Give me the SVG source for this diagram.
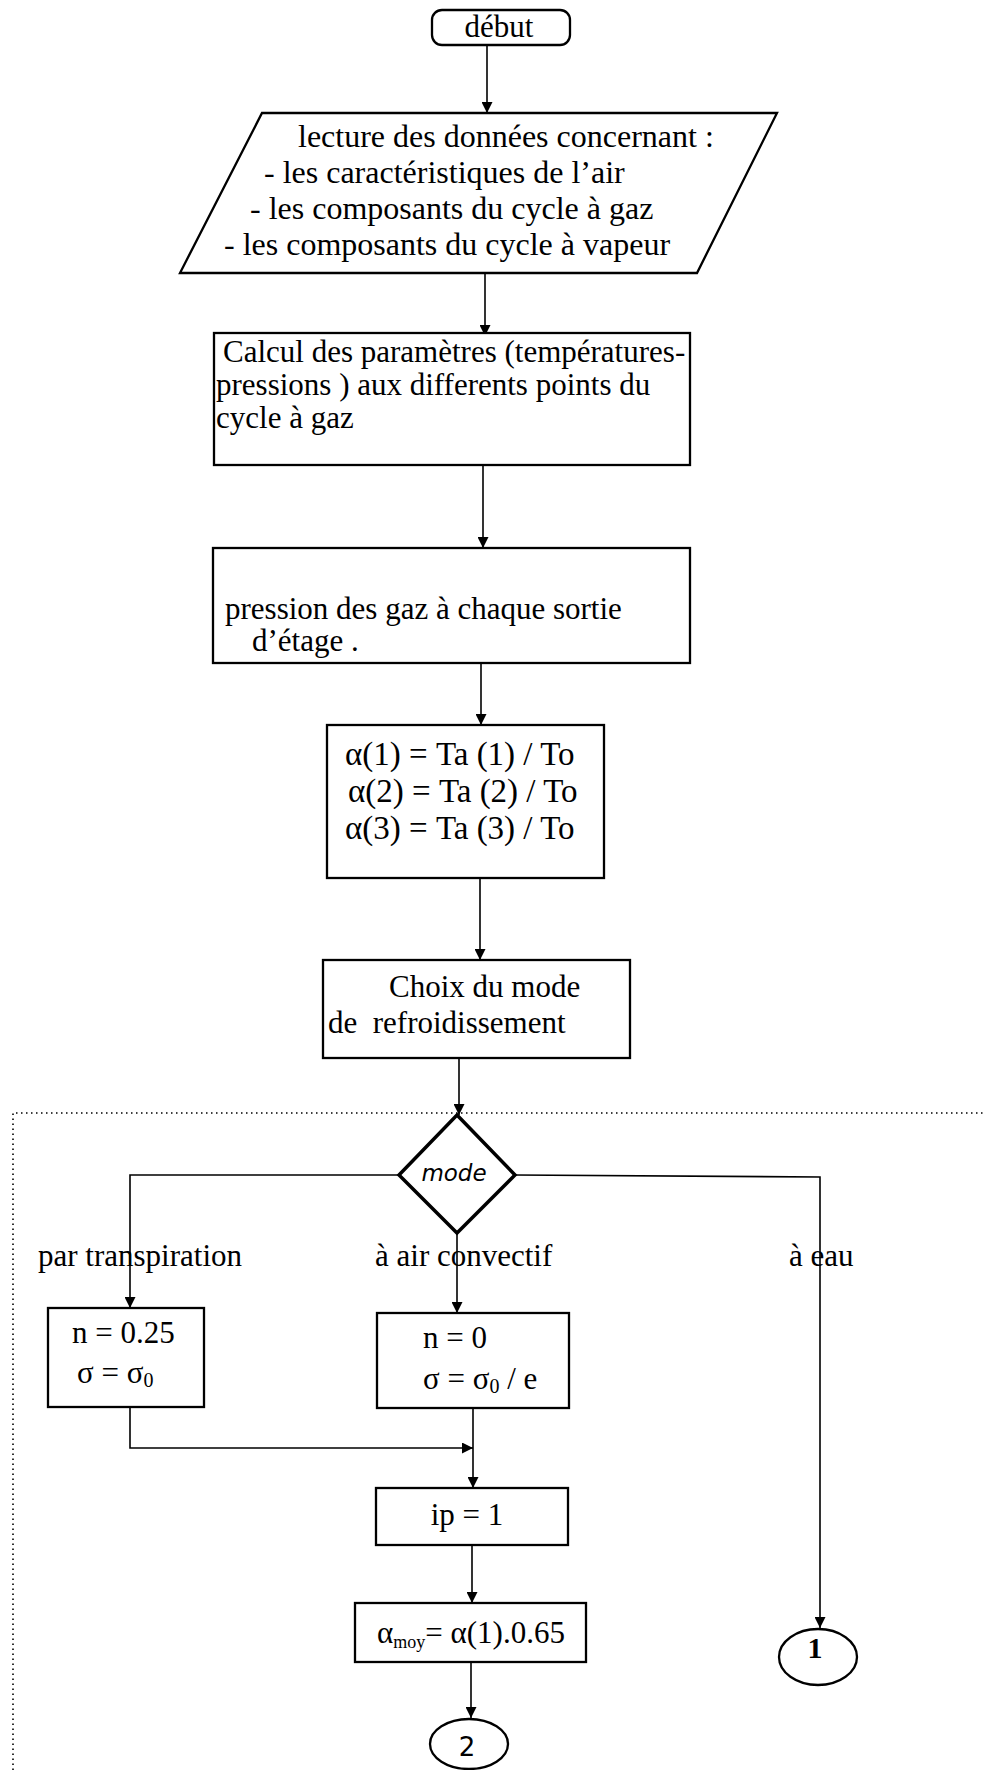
<svg xmlns="http://www.w3.org/2000/svg" width="985" height="1770" viewBox="0 0 985 1770">
<defs>
<marker id="ah" viewBox="0 0 10 10" refX="10" refY="5" markerWidth="11" markerHeight="11" markerUnits="userSpaceOnUse" orient="auto"><path d="M0,0 L10,5 L0,10 z" fill="#000"/></marker>
</defs>
<style>
.t{font-family:"Liberation Serif","Times New Roman",serif;font-size:31px;fill:#000}
.p{font-size:32px}
.a{font-size:33px}
.box{fill:#fff;stroke:#000;stroke-width:2.3}
.c{fill:none;stroke:#000;stroke-width:1.6}
.arr{marker-end:url(#ah)}
.dot{fill:none;stroke:#000;stroke-width:1.6;stroke-dasharray:1.5 3.5}
</style>
<rect width="985" height="1770" fill="#fff"/>

<path class="dot" d="M13,1770 V1113 H985"/>

<g id="connectors">
<line class="c arr" x1="487" y1="44" x2="487" y2="113"/>
<line class="c arr" x1="485" y1="273" x2="485" y2="336"/>
<line class="c arr" x1="483" y1="465" x2="483" y2="548"/>
<line class="c arr" x1="481" y1="663" x2="481" y2="725"/>
<line class="c arr" x1="480" y1="878" x2="480" y2="960"/>
<line class="c arr" x1="459" y1="1058" x2="459" y2="1115"/>
<polyline class="c arr" points="399,1175 130,1175 130,1308"/>
<line class="c arr" x1="457" y1="1233" x2="457" y2="1313"/>
<polyline class="c arr" points="515,1175 820,1177 820,1628"/>
<polyline class="c arr" points="130,1407 130,1448 473,1448"/>
<line class="c arr" x1="473" y1="1408" x2="473" y2="1488"/>
<line class="c arr" x1="472" y1="1545" x2="472" y2="1603"/>
<line class="c arr" x1="471" y1="1662" x2="471" y2="1718"/>
</g>

<g id="debut">
<rect class="box" x="432" y="10" width="138" height="35" rx="10"/>
<text class="t" x="499" y="37" text-anchor="middle">début</text>
</g>

<g id="lecture">
<polygon class="box" points="262,113 777,113 697,273 180,273"/>
<text class="t p" x="298" y="147">lecture des données concernant :</text>
<text class="t p" x="264" y="183">- les caractéristiques de l’air</text>
<text class="t p" x="250" y="219">- les composants du cycle à gaz</text>
<text class="t p" x="224" y="255">- les composants du cycle à vapeur</text>
</g>

<g id="calcul">
<rect class="box" x="214" y="333" width="476" height="132"/>
<text class="t" x="223" y="362">Calcul des paramètres (températures-</text>
<text class="t" x="216" y="395">pressions ) aux differents points du</text>
<text class="t" x="216" y="428">cycle à gaz</text>
</g>

<g id="pression">
<rect class="box" x="213" y="548" width="477" height="115"/>
<text class="t" x="225" y="619">pression des gaz à chaque sortie</text>
<text class="t" x="252" y="651">d’étage .</text>
</g>

<g id="alpha">
<rect class="box" x="327" y="725" width="277" height="153"/>
<text class="t a" x="345" y="765">α(1) = Ta (1) / To</text>
<text class="t a" x="348" y="802">α(2) = Ta (2) / To</text>
<text class="t a" x="345" y="839">α(3) = Ta (3) / To</text>
</g>

<g id="choix">
<rect class="box" x="323" y="960" width="307" height="98"/>
<text class="t" x="389" y="997">Choix du mode</text>
<text class="t" x="328" y="1033" style="white-space:pre">de  refroidissement</text>
</g>

<g id="mode">
<polygon fill="#fff" stroke="#000" stroke-width="3.5" points="457,1115 515,1175 457,1233 399,1175"/>
<text x="454" y="1181" text-anchor="middle" font-family="DejaVu Sans, sans-serif" font-style="italic" font-size="23">mode</text>
</g>

<g id="labels">
<text class="t" x="38" y="1266">par transpiration</text>
<text class="t" x="375" y="1266">à air convectif</text>
<text class="t" x="789" y="1266">à eau</text>
</g>

<g id="transpiration">
<rect class="box" x="48" y="1308" width="156" height="99"/>
<text class="t" x="72" y="1343">n = 0.25</text>
<text class="t" x="77" y="1383">σ = σ<tspan font-size="20" dy="4">0</tspan></text>
</g>

<g id="convectif">
<rect class="box" x="377" y="1313" width="192" height="95"/>
<text class="t" x="423" y="1348">n = 0</text>
<text class="t" x="423" y="1389">σ = σ<tspan font-size="20" dy="4">0</tspan><tspan dy="-4"> / e</tspan></text>
</g>

<g id="ip">
<rect class="box" x="376" y="1488" width="192" height="57"/>
<text class="t" x="467" y="1525" text-anchor="middle">ip = 1</text>
</g>

<g id="alphamoy">
<rect class="box" x="355" y="1603" width="231" height="59"/>
<text class="t" x="377" y="1643">α<tspan font-size="18" dy="5">moy</tspan><tspan dy="-5">= α(1).0.65</tspan></text>
</g>

<g id="conn1">
<ellipse class="box" cx="818" cy="1657" rx="39" ry="28"/>
<text x="815" y="1658" text-anchor="middle" font-family="Liberation Serif, serif" font-weight="bold" font-size="30">1</text>
</g>

<g id="conn2">
<ellipse class="box" cx="469" cy="1744" rx="39" ry="25"/>
<text x="467" y="1756" text-anchor="middle" font-family="DejaVu Sans, sans-serif" font-size="26">2</text>
</g>
</svg>
